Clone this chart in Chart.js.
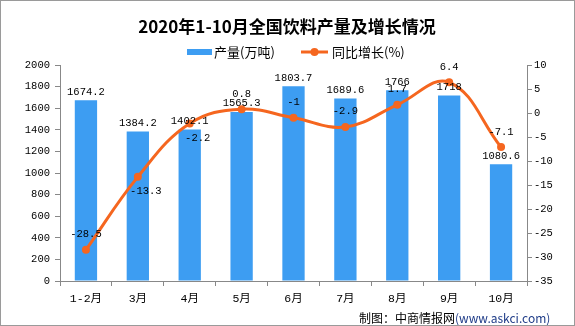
<!DOCTYPE html>
<html>
<head>
<meta charset="utf-8">
<script src="https://cdn.jsdelivr.net/npm/chart.js@4.4.0/dist/chart.umd.min.js"></script>
<style>
  html, body { margin: 0; padding: 0; background: #fff; }
  #wrap { width: 575px; height: 326px; }
</style>
</head>
<body>
<div id="wrap"><canvas id="c" width="575" height="326"></canvas></div>
<script>
const months = ['1-2月', '3月', '4月', '5月', '6月', '7月', '8月', '9月', '10月']
const output = [1674.2, 1384.2, 1402.1, 1565.3, 1803.7, 1689.6, 1766, 1718, 1080.6]
const growth = [-28.5, -13.3, -2.2, 0.8, -1, -2.9, 1.7, 6.4, -7.1]
const leftTicks = [0, 200, 400, 600, 800, 1000, 1200, 1400, 1600, 1800, 2000]
const rightTicks = [-35, -30, -25, -20, -15, -10, -5, 0, 5, 10]

const BLUE = '#3d9df2'
const ORANGE = '#f5661f'
const AXIS = '#888888'
const monoFont = "'Liberation Mono', 'Noto Sans CJK SC', monospace"
const cjkFont = "'Noto Sans CJK SC', sans-serif"

// growth labels that sit under the point instead of above
const growthBelow = [false, true, true, false, false, false, false, false, false]

const decor = {
    id: 'decor',
    beforeDraw(chart) {
        const ctx = chart.ctx
        ctx.save()
        ctx.fillStyle = '#fff'
        ctx.fillRect(0, 0, chart.width, chart.height)
        ctx.restore()
    },
    afterDatasetsDraw(chart) {
        const ctx = chart.ctx
        ctx.save()
        ctx.fillStyle = '#000'
        ctx.textAlign = 'center'
        ctx.font = '10.5px ' + monoFont

        // bar value labels
        const barMeta = chart.getDatasetMeta(1)
        barMeta.data.forEach((bar, i) => {
            ctx.textBaseline = 'bottom'
            ctx.fillText(String(output[i]), bar.x, bar.y - 3)
        })

        // growth labels
        const lineMeta = chart.getDatasetMeta(0)
        lineMeta.data.forEach((pt, i) => {
            if (growthBelow[i]) {
                ctx.textBaseline = 'top'
                ctx.fillText(String(growth[i]), pt.x + 8, pt.y + 9)
            } else {
                ctx.textBaseline = 'bottom'
                ctx.fillText(String(growth[i]), pt.x, pt.y - 10)
            }
        })
        ctx.restore()
    },
    afterDraw(chart) {
        const ctx = chart.ctx
        ctx.save()

        // title
        ctx.fillStyle = '#000'
        ctx.textAlign = 'center'
        ctx.textBaseline = 'middle'
        ctx.font = "bold 17px 'Noto Sans CJK SC', serif"
        ctx.fillText('2020年1-10月全国饮料产量及增长情况', 287, 27)

        // legend
        ctx.fillStyle = BLUE
        ctx.fillRect(187, 49, 25, 6)
        ctx.fillStyle = '#000'
        ctx.textAlign = 'left'
        ctx.font = '13px ' + cjkFont
        ctx.fillText('产量(万吨)', 214, 52)

        ctx.strokeStyle = ORANGE
        ctx.lineWidth = 3
        ctx.beginPath()
        ctx.moveTo(301, 52)
        ctx.lineTo(328, 52)
        ctx.stroke()
        ctx.fillStyle = ORANGE
        ctx.beginPath()
        ctx.arc(314.5, 52, 4, 0, Math.PI * 2)
        ctx.fill()
        ctx.fillStyle = '#000'
        ctx.fillText('同比增长(%)', 332, 52)

        // source
        ctx.font = '12px ' + cjkFont
        ctx.textAlign = 'left'
        const part1 = '制图：中商情报网'
        ctx.fillText(part1, 359, 318)
        const w = ctx.measureText(part1).width
        ctx.fillStyle = '#1f3c88'
        ctx.fillText('(www.askci.com)', 359 + w, 318)

        // border
        ctx.strokeStyle = '#9a9a9a'
        ctx.lineWidth = 1
        ctx.strokeRect(0.5, 0.5, chart.width - 1, chart.height - 1)
        ctx.restore()
    }
}

new Chart(document.getElementById('c'), {
    type: 'bar',
    data: {
        labels: months,
        datasets: [
            {
                type: 'line',
                label: '同比增长(%)',
                data: growth,
                yAxisID: 'y2',
                borderColor: ORANGE,
                backgroundColor: ORANGE,
                borderWidth: 3,
                pointRadius: 4,
                pointBackgroundColor: ORANGE,
                pointBorderWidth: 0,
                tension: 0.4,
                order: 0
            },
            {
                type: 'bar',
                label: '产量(万吨)',
                data: output,
                yAxisID: 'y',
                backgroundColor: BLUE,
                categoryPercentage: 1,
                barPercentage: 0.43,
                order: 1
            }
        ]
    },
    options: {
        responsive: false,
        animation: false,
        layout: { padding: { top: 65, left: 0, right: 0, bottom: 0 } },
        plugins: {
            legend: { display: false },
            title: { display: false },
            tooltip: { enabled: false }
        },
        scales: {
            x: {
                grid: { offset: true, drawOnChartArea: false, tickLength: 5, color: AXIS },
                border: { color: AXIS },
                ticks: { color: '#000', padding: 6, font: { size: 11.5, family: monoFont } },
                afterFit(scale) { scale.height = 45 }
            },
            y: {
                position: 'left',
                min: 0,
                max: 2000,
                afterBuildTicks(scale) { scale.ticks = leftTicks.map(v => ({ value: v })) },
                grid: { drawOnChartArea: false, tickLength: 5, color: AXIS },
                border: { color: AXIS },
                ticks: {
                    color: '#000', padding: 5, font: { size: 10.5, family: monoFont },
                    callback: v => String(v)
                },
                afterFit(scale) { scale.width = 60 }
            },
            y2: {
                position: 'right',
                min: -35,
                max: 10,
                afterBuildTicks(scale) { scale.ticks = rightTicks.map(v => ({ value: v })) },
                grid: { drawOnChartArea: false, tickLength: 5, color: AXIS },
                border: { color: AXIS },
                ticks: {
                    color: '#000', padding: 2, font: { size: 10.5, family: monoFont },
                    callback: v => String(v)
                },
                afterFit(scale) { scale.width = 48 }
            }
        }
    },
    plugins: [decor]
})
</script>
</body>
</html>
